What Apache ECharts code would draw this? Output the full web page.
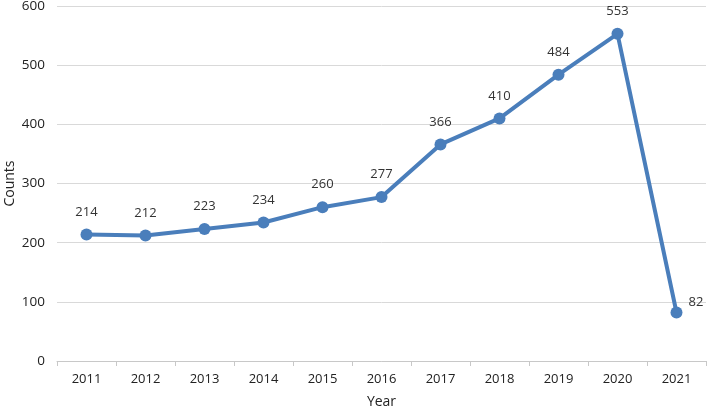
<!DOCTYPE html>
<html>
<head>
<meta charset="utf-8">
<script src="https://cdn.jsdelivr.net/npm/echarts@6/dist/echarts.min.js"></script>
<style>
  html, body { margin: 0; padding: 0; background: #fff; }
  #chart { width: 708px; height: 412px; }
</style>
</head>
<body>
<div id="chart"></div>
<script>
const years = ['2011', '2012', '2013', '2014', '2015', '2016', '2017', '2018', '2019', '2020', '2021'];
const counts = [214, 212, 223, 234, 260, 277, 366, 410, 484, 553, 82];
const yTicks = [0, 100, 200, 300, 400, 500, 600];

const chart = echarts.init(document.getElementById('chart'));

const seriesData = counts.map((v, i) => {
  // last point's label sits to the right
  if (i === counts.length - 1) {
    return { value: v, label: { position: 'right', offset: [-4, -10] } };
  }
  return v;
});

chart.setOption({
  animation: false,
  textStyle: { fontFamily: 'Open Sans, Liberation Sans, sans-serif' },
  grid: { left: 57, right: 2, top: 6, bottom: 51, outerBoundsMode: 'none', containLabel: false },
  xAxis: {
    type: 'category',
    data: years,
    name: 'Year',
    nameLocation: 'middle',
    nameGap: 34,
    nameMoveOverlap: false,
    nameTextStyle: { fontSize: 14, color: '#222' },
    axisLine: { lineStyle: { color: '#c8c8c8' } },
    axisTick: { show: true, length: 5, lineStyle: { color: '#c8c8c8' } },
    axisLabel: { fontSize: 13, color: '#222', margin: 12 },
  },
  yAxis: {
    type: 'value',
    min: yTicks[0],
    max: yTicks[yTicks.length - 1],
    interval: 100,
    name: 'Counts',
    nameLocation: 'middle',
    nameGap: 40,
    nameMoveOverlap: false,
    nameTextStyle: { fontSize: 14, color: '#222' },
    axisLine: { show: false },
    axisTick: { show: false },
    axisLabel: { fontSize: 13.5, color: '#222', margin: 12 },
    splitLine: { lineStyle: { color: '#d9d9d9' } },
  },
  series: [
    {
      type: 'line',
      data: seriesData,
      symbol: 'circle',
      symbolSize: 12,
      lineStyle: { color: '#4a7ebb', width: 4 },
      itemStyle: { color: '#4a7ebb' },
      label: {
        show: true,
        position: 'top',
        distance: 10,
        fontSize: 13,
        color: '#333',
      },
    },
  ],
});
</script>
</body>
</html>
